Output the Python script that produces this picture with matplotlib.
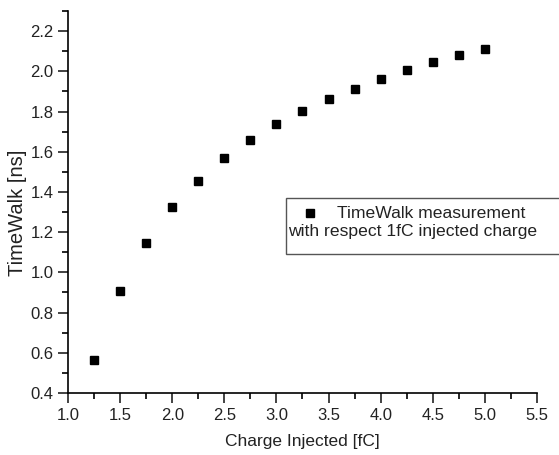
import matplotlib
matplotlib.use("Agg")
import matplotlib.pyplot as plt
from matplotlib.patches import Rectangle
from matplotlib.ticker import MultipleLocator

plt.rcParams['font.family'] = ['Liberation Sans', 'DejaVu Sans']

# charge injected [fC] and measured time walk [ns]
charge = [1.25, 1.5, 1.75, 2.0, 2.25, 2.5, 2.75, 3.0, 3.25, 3.5, 3.75, 4.0, 4.25, 4.5, 4.75, 5.0]
timewalk = [0.562, 0.906, 1.144, 1.323, 1.455, 1.567, 1.659, 1.737, 1.803, 1.863, 1.914, 1.963, 2.006, 2.045, 2.082, 2.112]

legend_line1 = "TimeWalk measurement"
legend_line2 = "with respect 1fC injected charge"

fig = plt.figure(figsize=(5.59, 4.55), dpi=100)
ax = fig.add_axes([0.1216, 0.1363, 0.8390, 0.8395])

ax.plot(charge, timewalk, linestyle="none", marker="s", markersize=6, color="black")

ax.set_xlim(1.0, 5.5)
ax.set_ylim(0.4, 2.3)
ax.xaxis.set_minor_locator(MultipleLocator(0.25))
ax.yaxis.set_minor_locator(MultipleLocator(0.1))
ax.set_xticks([1.0, 1.5, 2.0, 2.5, 3.0, 3.5, 4.0, 4.5, 5.0, 5.5])
ax.set_yticks([0.4, 0.6, 0.8, 1.0, 1.2, 1.4, 1.6, 1.8, 2.0, 2.2])
ax.tick_params(which="major", direction="out", length=7, width=1.2, labelsize=12, colors="#222222")
ax.tick_params(which="minor", direction="out", length=4, width=1.2)

for side in ["top", "right"]:
    ax.spines[side].set_visible(False)
for side in ["left", "bottom"]:
    ax.spines[side].set_linewidth(1.2)

ax.set_xlabel("Charge Injected [fC]", fontsize=12.5, labelpad=8, color="#222222")
ax.set_ylabel("TimeWalk [ns]", fontsize=14.5, color="#222222")
ax.yaxis.set_label_coords(-0.087, 0.471)

# hand-made legend box (two-line label, marker on the first line only)
fig.patches.append(Rectangle((286 / 559, 1 - 254 / 455), 300 / 559, 56 / 455,
                             transform=fig.transFigure, facecolor="white",
                             edgecolor="#555555", linewidth=1.0, clip_on=False))
fig.lines.append(plt.Line2D([310 / 559], [1 - 213 / 455], transform=fig.transFigure,
                            marker="s", markersize=6, color="black", linestyle="none"))
fig.text(337 / 559, 1 - 213 / 455, legend_line1, fontsize=12.6, va="center", color="#222222")
fig.text(288 / 559, 1 - 232 / 455, legend_line2, fontsize=12.6, va="center", color="#222222")

fig.savefig("out.png", dpi=100)
